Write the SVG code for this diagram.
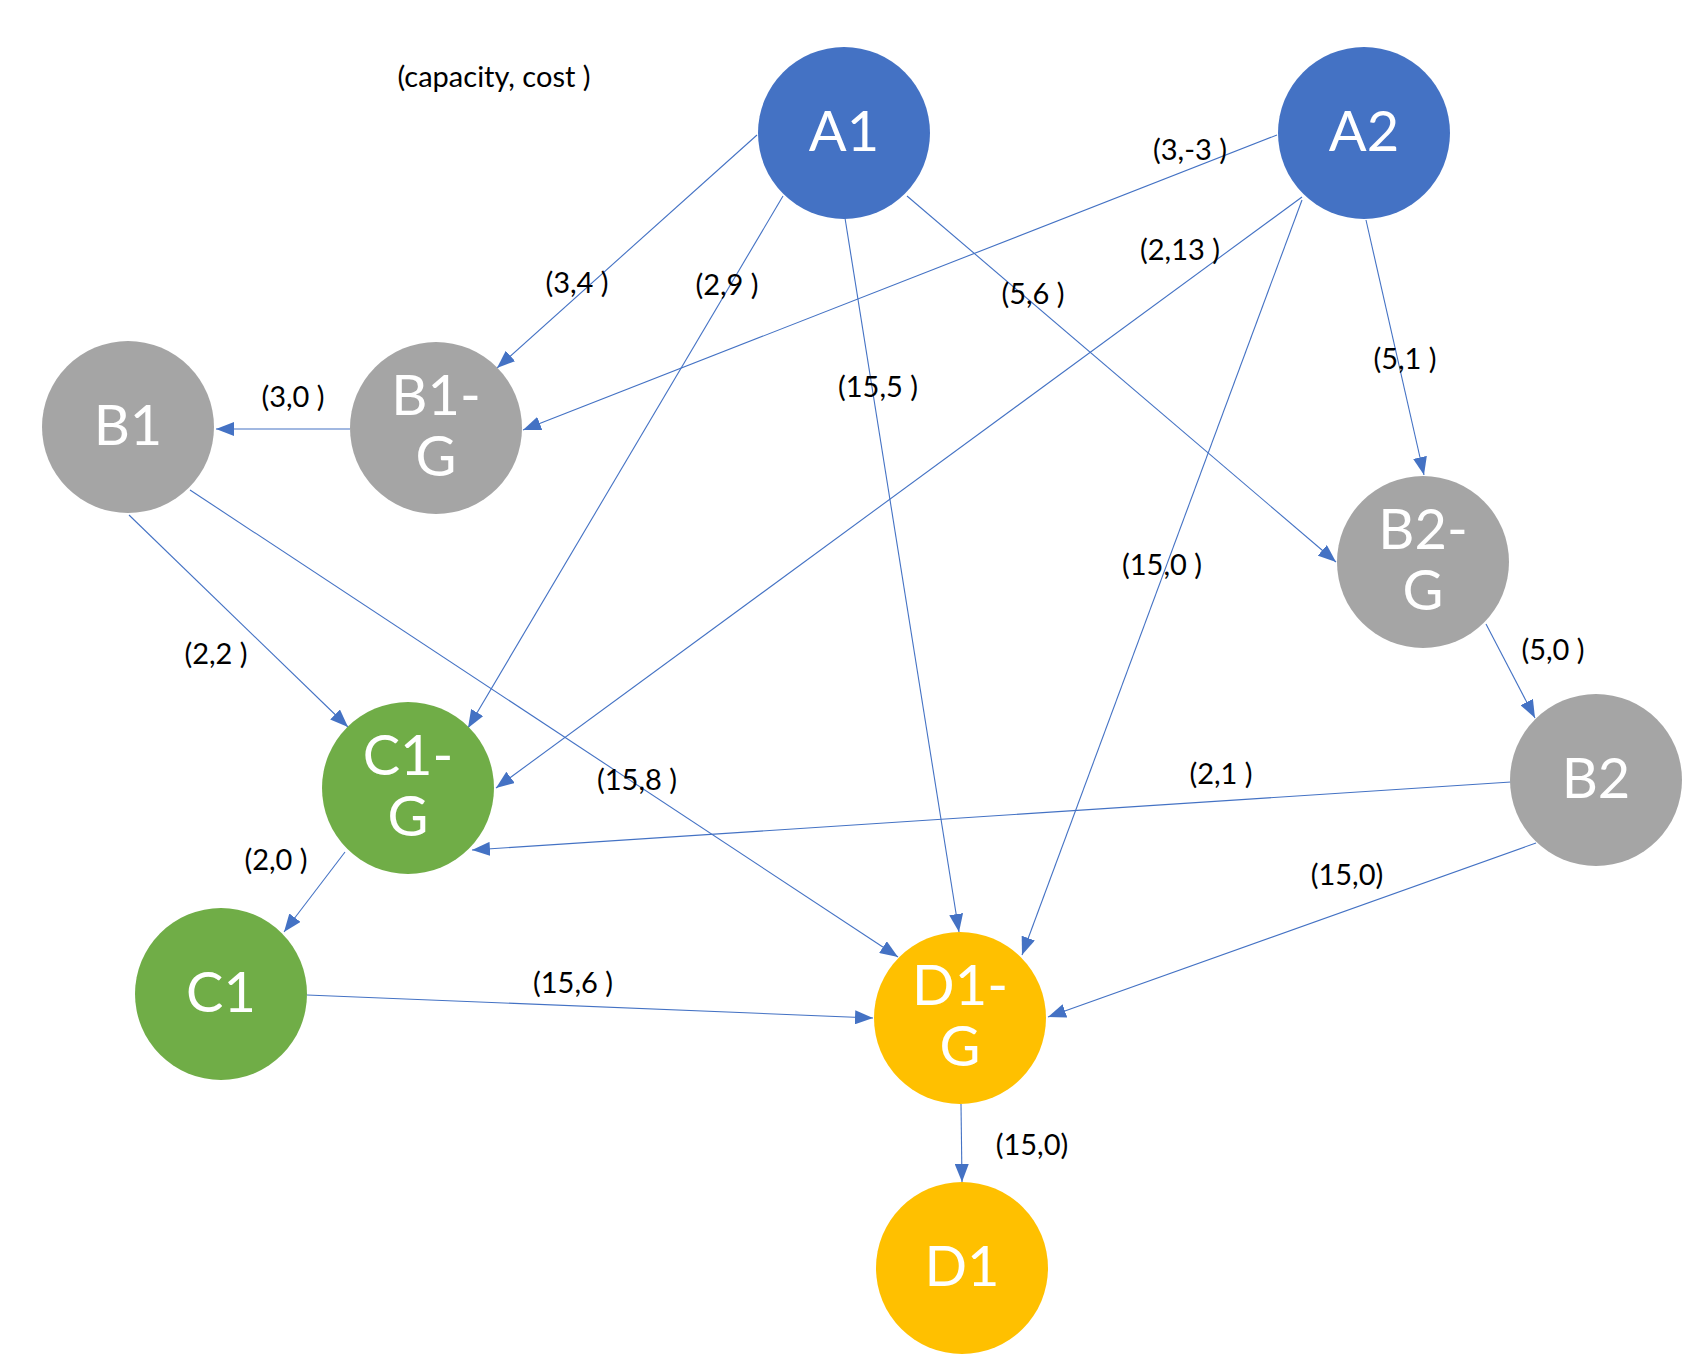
<svg xmlns="http://www.w3.org/2000/svg" width="1704" height="1371" viewBox="0 0 1704 1371">
<style>
.node text{font-family:Lato,"Open Sans","Liberation Sans",sans-serif;font-size:56px;fill:#fff;text-anchor:middle}
.blue{fill:#4472C4}.gray{fill:#A5A5A5}.green{fill:#70AD47}.gold{fill:#FFC000}
.edges line{stroke:#4472C4;stroke-width:1.1;fill:none;marker-end:url(#arr)}
.lbl{font-family:Lato,"Open Sans","Liberation Sans",sans-serif;font-size:29px;fill:#000;text-anchor:middle}
</style>
<defs>
<marker id="arr" markerUnits="userSpaceOnUse" markerWidth="18" markerHeight="14" refX="18" refY="7" orient="auto">
<path d="M0,0 L18,7 L0,14 z" fill="#4472C4"/>
</marker>
</defs>
<rect width="1704" height="1371" fill="#fff"/>
<g class="edges">
<line x1="757" y1="135" x2="497" y2="368"/>
<line x1="783" y1="196" x2="468" y2="728"/>
<line x1="845" y1="218" x2="959" y2="932"/>
<line x1="907" y1="196" x2="1336" y2="562"/>
<line x1="1277" y1="135" x2="523" y2="430"/>
<line x1="1302" y1="197" x2="496" y2="788"/>
<line x1="1302" y1="200" x2="1022" y2="955"/>
<line x1="1366" y1="220" x2="1424" y2="475"/>
<line x1="350" y1="429" x2="216" y2="429"/>
<line x1="129" y1="515" x2="348" y2="727"/>
<line x1="190" y1="490" x2="898" y2="957"/>
<line x1="1486" y1="624" x2="1535" y2="718"/>
<line x1="1511" y1="782" x2="472" y2="850"/>
<line x1="1536" y1="843" x2="1048" y2="1017"/>
<line x1="345" y1="852" x2="284" y2="932"/>
<line x1="307" y1="995" x2="873" y2="1018"/>
<line x1="961" y1="1104" x2="962" y2="1182"/>
</g>
<g id="A1" class="node"><circle cx="844" cy="133" r="86" class="blue"/><text x="844" y="151">A1</text></g>
<g id="A2" class="node"><circle cx="1364" cy="133" r="86" class="blue"/><text x="1364" y="151">A2</text></g>
<g id="B1" class="node"><circle cx="128" cy="427" r="86" class="gray"/><text x="128" y="445">B1</text></g>
<g id="B1-G" class="node"><circle cx="436" cy="428" r="86" class="gray"/><text x="436" y="415">B1-</text><text x="436" y="476">G</text></g>
<g id="B2-G" class="node"><circle cx="1423" cy="562" r="86" class="gray"/><text x="1423" y="549">B2-</text><text x="1423" y="610">G</text></g>
<g id="B2" class="node"><circle cx="1596" cy="780" r="86" class="gray"/><text x="1596" y="798">B2</text></g>
<g id="C1-G" class="node"><circle cx="408" cy="788" r="86" class="green"/><text x="408" y="775">C1-</text><text x="408" y="836">G</text></g>
<g id="C1" class="node"><circle cx="221" cy="994" r="86" class="green"/><text x="221" y="1012">C1</text></g>
<g id="D1-G" class="node"><circle cx="960" cy="1018" r="86" class="gold"/><text x="960" y="1005">D1-</text><text x="960" y="1066">G</text></g>
<g id="D1" class="node"><circle cx="962" cy="1268" r="86" class="gold"/><text x="962" y="1286">D1</text></g>
<g id="labels">
<text class="lbl" x="494" y="87">(capacity, cost )</text>
<text class="lbl" x="577" y="293">(3,4 )</text>
<text class="lbl" x="727" y="295">(2,9 )</text>
<text class="lbl" x="293" y="407">(3,0 )</text>
<text class="lbl" x="1190" y="160">(3,-3 )</text>
<text class="lbl" x="1180" y="260">(2,13 )</text>
<text class="lbl" x="1033" y="304">(5,6 )</text>
<text class="lbl" x="1405" y="369">(5,1 )</text>
<text class="lbl" x="878" y="397">(15,5 )</text>
<text class="lbl" x="216" y="664">(2,2 )</text>
<text class="lbl" x="637" y="790">(15,8 )</text>
<text class="lbl" x="276" y="870">(2,0 )</text>
<text class="lbl" x="1162" y="575">(15,0 )</text>
<text class="lbl" x="1553" y="660">(5,0 )</text>
<text class="lbl" x="1221" y="784">(2,1 )</text>
<text class="lbl" x="1347" y="885">(15,0)</text>
<text class="lbl" x="573" y="993">(15,6 )</text>
<text class="lbl" x="1032" y="1155">(15,0)</text>
</g>
</svg>
